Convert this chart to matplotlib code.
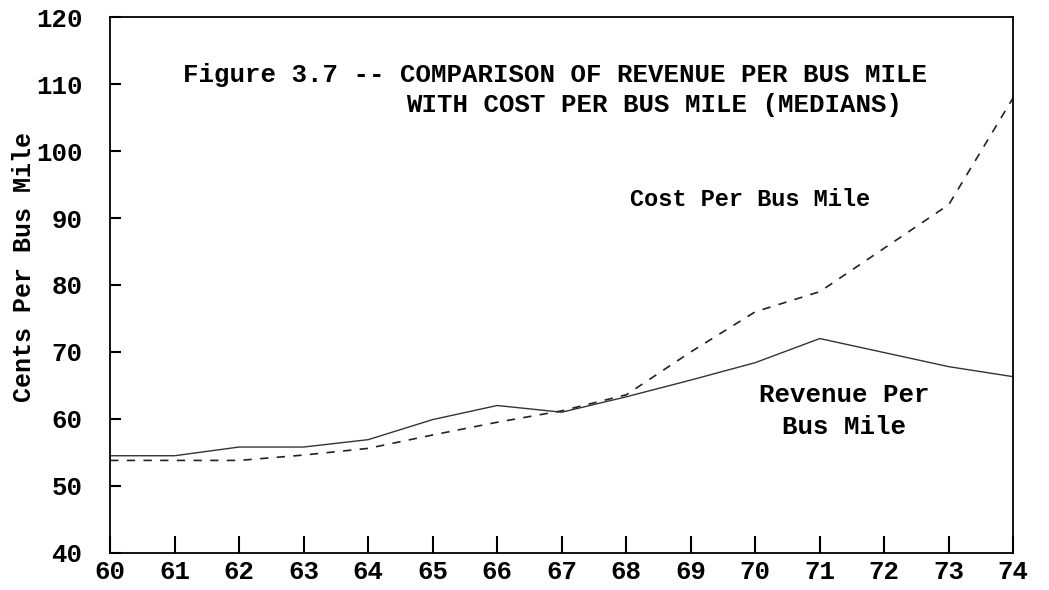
import matplotlib.pyplot as plt

years = [60, 61, 62, 63, 64, 65, 66, 67, 68, 69, 70, 71, 72, 73, 74]
year_labels = [str(y) for y in years]
revenue = [54.5, 54.5, 55.8, 55.8, 56.9, 59.9, 62.0, 61.0, 63.3, 65.8, 68.4, 72.0, 69.9, 67.8, 66.3]
cost = [53.8, 53.8, 53.8, 54.6, 55.6, 57.6, 59.5, 61.2, 63.6, 70.0, 76.0, 79.0, 85.5, 92.0, 108.0]
y_ticks = [40, 50, 60, 70, 80, 90, 100, 110, 120]

mono = "Liberation Mono"

fig = plt.figure(figsize=(10.49, 5.9), dpi=100)
ax = fig.add_axes([0.105, 0.063, 0.861, 0.908])

# revenue: thin near-solid line, cost: dashed line
ax.plot(years, revenue, color="#333333", linewidth=1.0)
ax.plot(years, cost, color="#222222", linewidth=1.2, linestyle=(0, (5, 5)))

ax.set_xlim(60, 74)
ax.set_ylim(40, 120)
ax.set_xticks(years)
ax.set_xticklabels(year_labels)
ax.set_yticks(y_ticks)

for lab in ax.get_xticklabels() + ax.get_yticklabels():
    lab.set_fontfamily(mono)
    lab.set_fontweight("bold")
    lab.set_fontsize(18.5)

ax.tick_params(axis="x", direction="in", length=12, width=1.5, pad=5)
ax.tick_params(axis="y", direction="in", length=8, width=1.5, pad=20)
for side in ["left", "bottom", "top", "right"]:
    ax.spines[side].set_linewidth(1.3)

ax.set_ylabel("Cents Per Bus Mile", fontfamily=mono, fontweight="bold", fontsize=18)
ax.yaxis.set_label_coords(-0.082, 0.534)

ax.text(0.081, 0.892, "Figure 3.7 -- COMPARISON OF REVENUE PER BUS MILE",
        transform=ax.transAxes, fontfamily=mono, fontweight="bold", fontsize=18.5, va="center")
ax.text(0.328, 0.836, "WITH COST PER BUS MILE (MEDIANS)",
        transform=ax.transAxes, fontfamily=mono, fontweight="bold", fontsize=18.5, va="center")

ax.text(68.06, 92.7, "Cost Per Bus Mile", fontfamily=mono, fontweight="bold", fontsize=17, va="center")
ax.text(71.38, 63.6, "Revenue Per", fontfamily=mono, fontweight="bold", fontsize=18.5, va="center", ha="center")
ax.text(71.38, 58.8, "Bus Mile", fontfamily=mono, fontweight="bold", fontsize=18.5, va="center", ha="center")

fig.savefig("out.png", dpi=100)
